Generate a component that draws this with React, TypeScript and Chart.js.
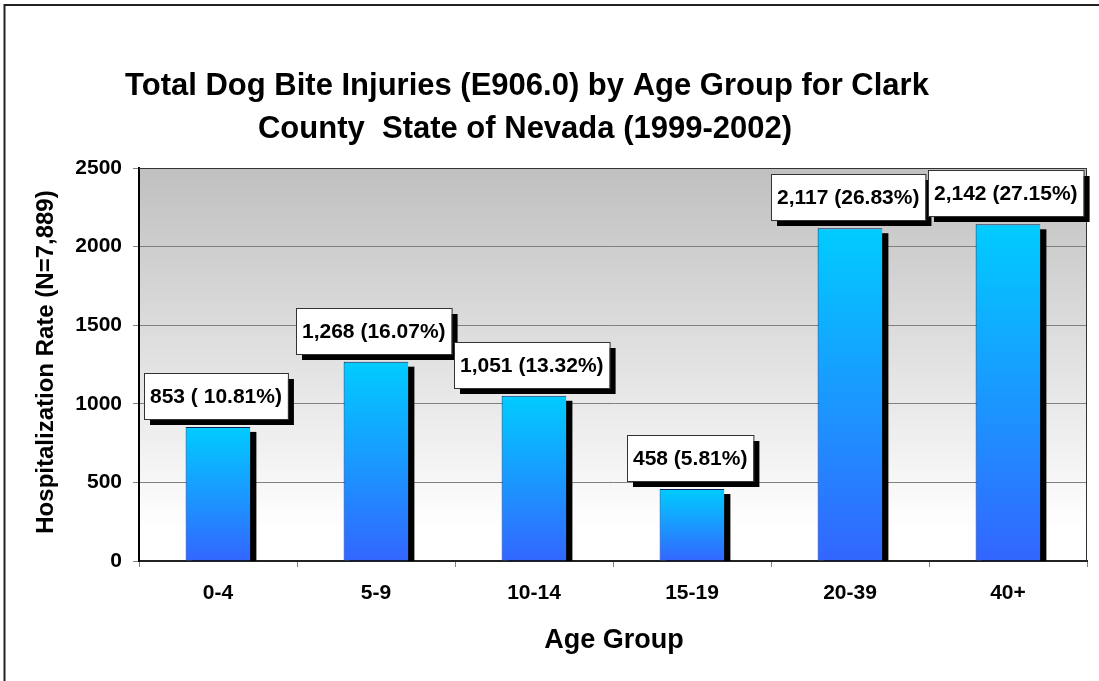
import React, { useEffect, useRef } from "react";
import { Chart, registerables } from "chart.js";

Chart.register(...registerables);

const categories = ["0-4", "5-9", "10-14", "15-19", "20-39", "40+"];
const injuries = [853, 1268, 1051, 458, 2117, 2142];
const dataLabels = [
  "853 ( 10.81%)",
  "1,268 (16.07%)",
  "1,051 (13.32%)",
  "458 (5.81%)",
  "2,117 (26.83%)",
  "2,142 (27.15%)",
];
const yTicks = [0, 500, 1000, 1500, 2000, 2500];
const titleLines = [
  "Total Dog Bite Injuries (E906.0) by Age Group for Clark",
  "County  State of Nevada (1999-2002)",
];
const yTitle = "Hospitalization Rate (N=7,889)";
const xTitle = "Age Group";

const FONT = '"Liberation Sans", Arial, sans-serif';

const decorPlugin = {
  id: "decor",
  beforeDraw(chart: any) {
    const { ctx, chartArea: a } = chart;
    ctx.save();
    ctx.fillStyle = "#ffffff";
    ctx.fillRect(0, 0, chart.width, chart.height);
    const g = ctx.createLinearGradient(0, a.top, 0, a.bottom);
    g.addColorStop(0, "#c0c0c0");
    g.addColorStop(0.92, "#ffffff");
    g.addColorStop(1, "#ffffff");
    ctx.fillStyle = g;
    ctx.fillRect(a.left, a.top, a.right - a.left, a.bottom - a.top);
    // outer border
    ctx.strokeStyle = "#222";
    ctx.lineWidth = 2;
    ctx.beginPath();
    ctx.moveTo(4.5, chart.height);
    ctx.lineTo(4.5, 5);
    ctx.lineTo(chart.width, 5);
    ctx.stroke();
    ctx.restore();
  },
  beforeDatasetsDraw(chart: any) {
    const { ctx, chartArea: a } = chart;
    ctx.save();
    ctx.strokeStyle = "#333";
    ctx.lineWidth = 1;
    ctx.beginPath();
    ctx.moveTo(a.left, a.top + 0.5);
    ctx.lineTo(a.right - 0.5, a.top + 0.5);
    ctx.lineTo(a.right - 0.5, a.bottom);
    ctx.stroke();
    // bar shadows
    const meta = chart.getDatasetMeta(0);
    ctx.fillStyle = "#000";
    meta.data.forEach((bar: any) => {
      const w = bar.width;
      const left = bar.x - w / 2 + 6;
      const top = bar.y + 5;
      ctx.fillRect(left, top, w, a.bottom - top);
    });
    ctx.restore();
  },
  afterDatasetsDraw(chart: any) {
    const { ctx } = chart;
    const meta = chart.getDatasetMeta(0);
    ctx.save();
    ctx.font = `bold 21px ${FONT}`;
    ctx.textAlign = "center";
    ctx.textBaseline = "middle";
    meta.data.forEach((bar: any, i: number) => {
      const text = dataLabels[i];
      const tw = ctx.measureText(text).width;
      const bw = tw + 12;
      const bh = 46;
      const cx = bar.x - 2;
      const bx = Math.round(cx - bw / 2);
      const by = Math.round(bar.y - 8 - bh);
      ctx.fillStyle = "#000";
      ctx.fillRect(bx + 6, by + 6, bw, bh);
      ctx.fillStyle = "#fff";
      ctx.fillRect(bx, by, bw, bh);
      ctx.strokeStyle = "#333";
      ctx.lineWidth = 1;
      ctx.strokeRect(bx + 0.5, by + 0.5, bw, bh);
      ctx.fillStyle = "#000";
      ctx.fillText(text, bx + bw / 2, by + bh / 2 + 1);
    });
    ctx.restore();
  },
  afterDraw(chart: any) {
    const { ctx } = chart;
    ctx.save();
    ctx.fillStyle = "#000";
    ctx.textAlign = "center";
    ctx.textBaseline = "middle";
    ctx.font = `bold 31px ${FONT}`;
    ctx.fillText(titleLines[0], 527, 86);
    ctx.fillText(titleLines[1], 525, 129);
    ctx.font = `bold 27px ${FONT}`;
    ctx.fillText(xTitle, 614, 641);
    ctx.translate(46, 362);
    ctx.rotate(-Math.PI / 2);
    ctx.font = `bold 24px ${FONT}`;
    ctx.fillText(yTitle, 0, 0);
    ctx.restore();
  },
};

export default function App() {
  const ref = useRef<HTMLCanvasElement>(null);
  useEffect(() => {
    if (!ref.current) return;
    const chart = new Chart(ref.current, {
      type: "bar",
      data: {
        labels: categories,
        datasets: [
          {
            data: injuries,
            barPercentage: 0.41,
            categoryPercentage: 1,
            borderWidth: { left: 1, top: 1, right: 0, bottom: 0 },
            borderColor: "#10205a",
            borderSkipped: false,
            backgroundColor: (c: any) => {
              const chart = c.chart;
              const y = chart.scales && chart.scales.y;
              if (!chart.chartArea || !y || c.raw == null) return "#1e90ff";
              const top = y.getPixelForValue(c.raw);
              const bottom = y.getPixelForValue(0);
              const g = chart.ctx.createLinearGradient(0, top, 0, bottom);
              g.addColorStop(0, "#00ccff");
              g.addColorStop(1, "#3366ff");
              return g;
            },
          },
        ],
      },
      options: {
        responsive: false,
        animation: false,
        devicePixelRatio: 1,
        layout: { padding: { top: 168, right: 12, left: 0, bottom: 0 } },
        plugins: {
          legend: { display: false },
          title: { display: false },
          tooltip: { enabled: false },
        },
        scales: {
          x: {
            offset: true,
            afterFit: (s: any) => {
              s.height = 120;
            },
            grid: {
              offset: true,
              drawOnChartArea: false,
              tickLength: 6,
              color: "#808080",
            },
            border: { color: "#222", width: 2 },
            ticks: {
              color: "#000",
              padding: 14,
              font: { family: FONT, size: 21, weight: "bold" },
            },
          },
          y: {
            min: 0,
            max: 2500,
            afterFit: (s: any) => {
              s.width = 139;
            },
            afterBuildTicks: (s: any) => {
              s.ticks = yTicks.map((v) => ({ value: v }));
            },
            grid: { color: "#808080", tickLength: 6 },
            border: { color: "#000", width: 2 },
            ticks: {
              color: "#000",
              padding: 11,
              font: { family: FONT, size: 21, weight: "bold" },
              callback: (v: any) => String(v),
            },
          },
        },
      },
      plugins: [decorPlugin],
    });
    return () => chart.destroy();
  }, []);
  return (
    <div
      style={{
        position: "fixed",
        left: 0,
        top: 0,
        width: 1099,
        height: 681,
        background: "#fff",
      }}
    >
      <canvas ref={ref} width={1099} height={681} style={{ display: "block" }} />
    </div>
  );
}
